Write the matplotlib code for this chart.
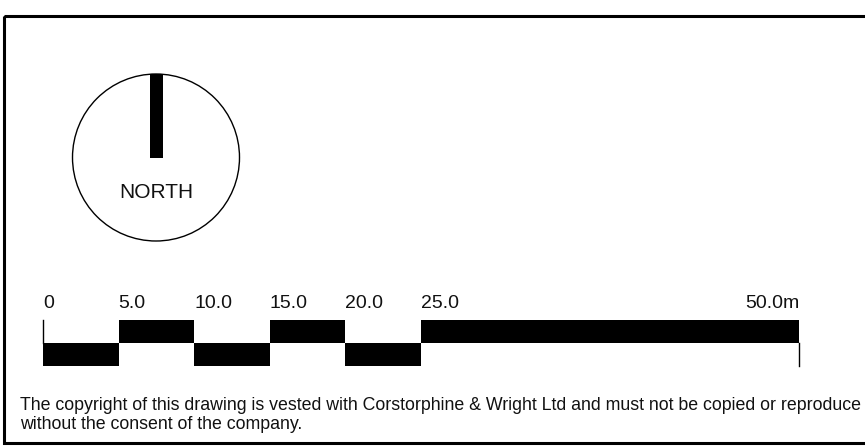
import matplotlib
matplotlib.use("Agg")
import matplotlib.pyplot as plt
from matplotlib.patches import Rectangle, Circle

# ---- data ----
scale_ticks = [0, 5, 10, 15, 20, 25, 50]          # metres
tick_labels = ["0", "5.0", "10.0", "15.0", "20.0", "25.0", "50.0m"]
segment_levels = ["low", "high", "low", "high", "low", "high"]  # one per interval
north_label = "NORTH"
copyright_lines = [
    "The copyright of this drawing is vested with Corstorphine & Wright Ltd and must not be copied or reproduce",
    "without the consent of the company.",
]

W, H = 865, 446
plt.rcParams['font.family'] = ['Liberation Sans', 'DejaVu Sans']
fig = plt.figure(figsize=(W / 100, H / 100), dpi=100)
fig.patch.set_facecolor("white")

# full-figure pixel axes
ax = fig.add_axes([0, 0, 1, 1])
ax.set_xlim(0, W)
ax.set_ylim(H, 0)
ax.axis("off")

# drawing frame (continues past right edge)
ax.add_patch(Rectangle((4, 15.5), 900, 427.5, fill=False, edgecolor="black", linewidth=2.2))

# north symbol
ax.add_patch(Circle((156, 157.5), 83.5, fill=False, edgecolor="black", linewidth=1.0))
ax.add_patch(Rectangle((150, 74), 12.5, 84, facecolor="black", edgecolor="none"))
ax.text(156, 192.5, north_label, ha="center", va="center", fontsize=15, color="#111111")

# copyright text
ax.text(20, 410, copyright_lines[0], ha="left", va="baseline", fontsize=12.8, color="#111111", clip_on=True)
ax.text(20, 429, copyright_lines[1], ha="left", va="baseline", fontsize=12.8, color="#111111", clip_on=True)

# scale bar axes (metres)
x0, x1 = 43, 799
ytop, ybot = 320, 366
axb = fig.add_axes([x0 / W, (H - ybot) / H, (x1 - x0) / W, (ybot - ytop) / H])
axb.set_xlim(scale_ticks[0], scale_ticks[-1])
axb.set_ylim(-1, 1)
axb.axis("off")
for i, lvl in enumerate(segment_levels):
    a, b = scale_ticks[i], scale_ticks[i + 1]
    y = 0 if lvl == "high" else -1
    axb.add_patch(Rectangle((a, y), b - a, 1, facecolor="black", edgecolor="none", clip_on=False))
axb.plot([scale_ticks[0], scale_ticks[0]], [0, 1], color="black", linewidth=1.0, clip_on=False)
axb.plot([scale_ticks[-1], scale_ticks[-1]], [-1, 0], color="black", linewidth=1.0, clip_on=False)

for t, lab in zip(scale_ticks, tick_labels):
    ha = "right" if t == scale_ticks[-1] else "left"
    axb.annotate(lab, xy=(t, 1), xytext=(0, 8.6), textcoords="offset points",
                 ha=ha, va="baseline", fontsize=14, color="#111111", annotation_clip=False)

fig.savefig("out.png", dpi=100, facecolor="white")
